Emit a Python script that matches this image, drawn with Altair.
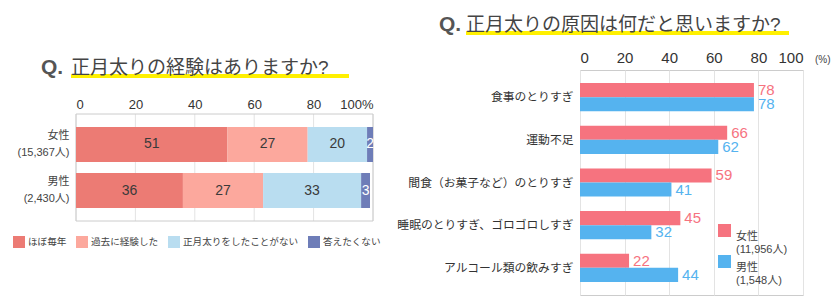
import altair as alt
import pandas as pd

FONT = "'Liberation Sans', 'Noto Sans CJK JP', sans-serif"

# ---------------- data ----------------
# Left: 正月太りの経験
groups = ["女性|(15,367人)", "男性|(2,430人)"]
answers = ["ほぼ毎年", "過去に経験した", "正月太りをしたことがない", "答えたくない"]
answer_colors = ["#EC7B74", "#FCA89D", "#B9DDF0", "#6E7DB8"]
female_exp = [51, 27, 20, 2]
male_exp = [36, 27, 33, 3]

# Right: 正月太りの原因
causes = ["食事のとりすぎ", "運動不足", "間食（お菓子など）のとりすぎ",
          "睡眠のとりすぎ、ゴロゴロしすぎ", "アルコール類の飲みすぎ"]
sexes = ["女性|(11,956人)", "男性|(1,548人)"]
sex_colors = ["#F6737F", "#55B3EF"]
female_cause = [78, 66, 59, 45, 22]
male_cause = [78, 62, 41, 32, 44]

tick_values = [0, 20, 40, 60, 80, 100]

left_title = "正月太りの経験はありますか?"
right_title = "正月太りの原因は何だと思いますか?"

# ---------------- tables ----------------
exp_rows = []
for g, vals in zip(groups, [female_exp, male_exp]):
    for i, (a, v) in enumerate(zip(answers, vals)):
        exp_rows.append({"group": g, "answer": a, "order": i, "value": v})
exp_df = pd.DataFrame(exp_rows)

cause_rows = []
for s, vals in zip(sexes, [female_cause, male_cause]):
    for c, v in zip(causes, vals):
        cause_rows.append({"cause": c, "sex": s, "value": v})
cause_df = pd.DataFrame(cause_rows)

tick_df = pd.DataFrame({"x0": tick_values})
one = pd.DataFrame({"k": [0]})


def title_layers(q_x, t_x, base_y, line_x2, text):
    uline = alt.Chart(one).mark_rule(color="#FFF000", strokeWidth=4).encode(
        x=alt.value(t_x), x2=alt.value(line_x2), y=alt.value(base_y + 2))
    q = alt.Chart(one).mark_text(text="Q.", fontSize=21, fontWeight="bold", color="#555555",
                                 align="left", baseline="alphabetic").encode(
        x=alt.value(q_x), y=alt.value(base_y))
    t = alt.Chart(one).mark_text(text=text, fontSize=19, color="#444444",
                                 align="left", baseline="alphabetic").encode(
        x=alt.value(t_x), y=alt.value(base_y))
    return [uline, q, t]


# ---------------- left chart ----------------
LW, LH = 297, 151          # plot area shares its top with the right chart
FT = 44                    # top of the framed region inside the left plot area
left_spacer = alt.Chart(one).mark_rule(color="white", strokeWidth=1).encode(
    x=alt.value(-74.5), x2=alt.value(319), y=alt.value(-60))

left_base = alt.Chart(exp_df).transform_stack(
    stack="value", groupby=["group"], sort=[alt.SortField("order")], as_=["x0", "x1"]
).transform_calculate(mid="(datum.x0 + datum.x1) / 2")

xl = alt.X("x0:Q", scale=alt.Scale(domain=[0, 100], nice=False),
           axis=alt.Axis(orient="top", offset=-FT, values=tick_values,
                         labelExpr="datum.value == 100 ? '100%' : datum.label",
                         grid=False, domain=False, ticks=False,
                         labelFontSize=13, labelColor="#333333", labelPadding=3, title=None))
yl = alt.Y("group:N", sort=groups,
           scale=alt.Scale(range=[FT, LH], paddingInner=0.24, paddingOuter=0.283),
           axis=alt.Axis(labelExpr="split(datum.label, '|')", ticks=False, domain=False,
                         labelFontSize=11, labelColor="#444444", labelPadding=7,
                         labelLineHeight=17, labelOffset=-8.5, title=None))

left_grid = alt.Chart(tick_df).mark_rule(color="#E3E3E3", strokeWidth=1).encode(
    x=alt.X("x0:Q", scale=alt.Scale(domain=[0, 100], nice=False)),
    y=alt.value(FT), y2=alt.value(LH))

left_frame = alt.Chart(one).mark_rect(fill="transparent", stroke="#CCCCCC", strokeWidth=1).encode(
    x=alt.value(0), x2=alt.value(LW), y=alt.value(FT), y2=alt.value(LH))

left_bars = left_base.mark_bar().encode(
    x=xl, x2="x1:Q", y=yl,
    color=alt.Color("answer:N", scale=alt.Scale(domain=answers, range=answer_colors),
                    legend=alt.Legend(orient="none", legendX=-63, legendY=FT + 122,
                                      direction="horizontal", title=None,
                                      symbolType="square", symbolSize=144,
                                      symbolStrokeWidth=0, labelFontSize=9.6,
                                      labelColor="#444444", columnPadding=9,
                                      labelOffset=3, padding=0)),
    order=alt.Order("order:Q"))

left_text = left_base.mark_text(fontSize=14).encode(
    x="mid:Q", y=alt.Y("group:N", sort=groups), text="value:Q",
    color=alt.condition("datum.answer == '答えたくない'", alt.value("white"), alt.value("#3A3A3A")))

left = alt.layer(left_spacer, *title_layers(-35, -5, 4, 273, left_title),
                 left_grid, left_frame, left_bars, left_text
                 ).properties(width=LW, height=LH,
                              view=alt.ViewBackground(stroke="transparent"))

# ---------------- right chart ----------------
RW, RH = 223, 225
right_spacer = alt.Chart(one).mark_rule(color="white", strokeWidth=1).encode(
    x=alt.value(-183), x2=alt.value(0), y=alt.value(-68.5))

pct = alt.Chart(one).mark_text(text="(%)", fontSize=10, color="#444444",
                               align="left", baseline="middle").encode(
    x=alt.value(RW + 12), y=alt.value(-10))

yr = alt.Y("cause:N", sort=causes,
           scale=alt.Scale(paddingInner=0.341, paddingOuter=0.306),
           axis=alt.Axis(ticks=False, domain=False, labelFontSize=11.8, labelColor="#333333",
                         labelPadding=7, title=None))
xr = alt.X("value:Q", scale=alt.Scale(domain=[0, 100], nice=False),
           axis=alt.Axis(orient="top", values=tick_values, grid=True, gridColor="#E3E3E3",
                         domain=False, ticks=False, labelFontSize=15, labelColor="#333333",
                         labelPadding=5, title=None))
col = alt.Color("sex:N", scale=alt.Scale(domain=sexes, range=sex_colors),
                legend=alt.Legend(orient="none", legendX=138, legendY=154, title=None,
                                  symbolType="square", symbolSize=169, symbolStrokeWidth=0,
                                  labelExpr="split(datum.label, '|')", labelFontSize=11,
                                  labelColor="#444444", labelBaseline="top",
                                  labelOffset=5, rowPadding=0, padding=0))
yoff = alt.YOffset("sex:N", sort=sexes, scale=alt.Scale(paddingInner=0, paddingOuter=0))

right_bars = alt.Chart(cause_df).mark_bar().encode(x=xr, y=yr, yOffset=yoff, color=col)
right_text = alt.Chart(cause_df).mark_text(align="left", dx=4, fontSize=15).encode(
    x="value:Q", y=alt.Y("cause:N", sort=causes), yOffset=yoff, text="value:Q", color=col)

right = alt.layer(right_spacer, *title_layers(-141, -114, -39, 209, right_title), pct,
                  right_bars, right_text).properties(width=RW, height=RH)

chart = alt.hconcat(left, right, spacing=0).resolve_scale(
    color="independent"
).resolve_legend(color="independent").properties(padding=0).configure(
    font=FONT
).configure_view(stroke="#CCCCCC", strokeWidth=1)

chart.save("out.html", embed_options={"renderer": "svg", "actions": False})
